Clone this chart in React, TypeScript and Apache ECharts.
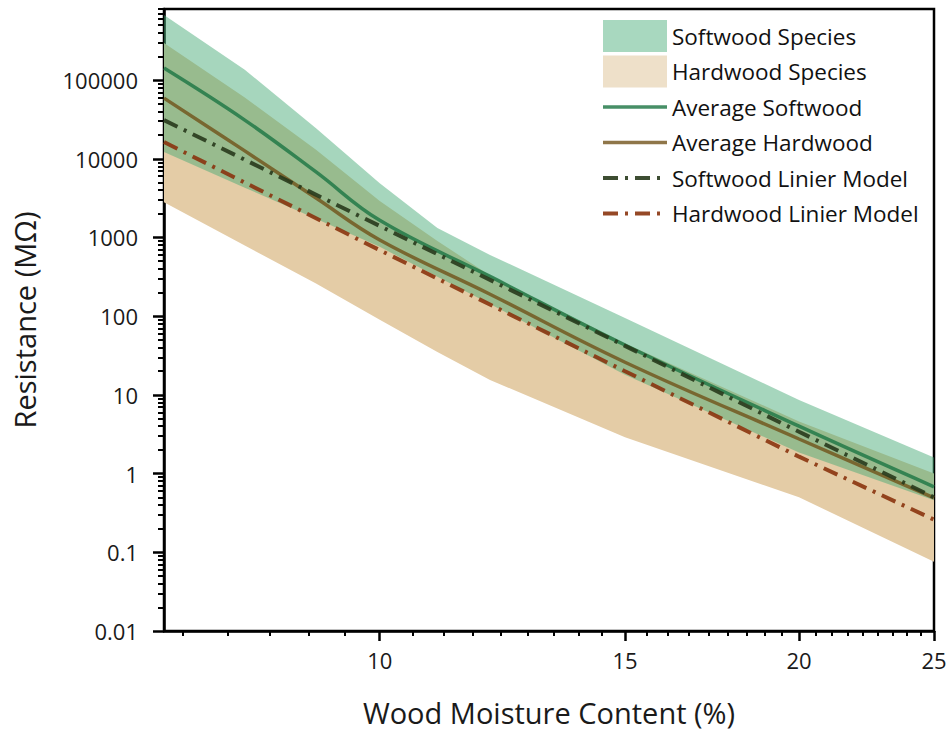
import React, { useEffect, useRef } from "react";
import * as echarts from "echarts";

// Moisture content (%) sample points
const moisture = [7, 8, 9, 10, 11, 12, 15, 20, 25];

// Species ranges, resistance in MΩ
const softwoodMax = [670000, 135000, 24500, 4900, 1320, 600, 95, 8.6, 1.6];
const softwoodMin = [12200, 4300, 1730, 760, 316, 143, 18, 1.85, 0.46];
const hardwoodMax = [295000, 60000, 13000, 2900, 900, 330, 45, 4.6, 1.0];
const hardwoodMin = [2800, 790, 260, 90, 35, 15.5, 2.9, 0.5, 0.076];

// Averages and fitted models
const lineMoisture = [7, 8, 9, 10, 12, 15, 20, 25];
const averageSoftwood = [142000, 31000, 6800, 1650, 320, 43, 4.0, 0.68];
const averageHardwood = [59000, 12600, 3170, 930, 190, 26, 2.75, 0.49];
const modelMoisture = [7, 10, 15, 20, 25];
const softwoodModel = [31000, 1400, 42, 3.4, 0.5];
const hardwoodModel = [16300, 690, 20, 1.64, 0.26];

// Axis ticks
const xMajorTicks = [10, 15, 20, 25];
const xMinorTicks: number[] = [];
[5, 10, 15, 20].forEach((b) => {
  for (let k = 1; k < 9; k++) {
    const v = b + (k * 5) / 9;
    if (v >= 7 && v <= 25) xMinorTicks.push(v);
  }
});
const yMajorExponents = [-2, -1, 0, 1, 2, 3, 4, 5];
const yMinorTicks: number[] = [];
yMajorExponents.forEach((e) => {
  for (let m = 2; m <= 9; m++) {
    const v = m * Math.pow(10, e);
    if (v <= 800000) yMinorTicks.push(v);
  }
});

const FONT = "'Open Sans', 'Noto Sans', sans-serif";
const DASH_DOT = [15, 7, 3, 7];
const lg = (v: number) => Math.log10(v);

function band(name: string, xs: number[], lo: number[], hi: number[], color: string) {
  const data = xs.map((m, i) => [lg(m), lg(lo[i]), lg(hi[i])]);
  return {
    type: "custom",
    name,
    silent: true,
    clip: true,
    z: 1,
    itemStyle: { color },
    encode: { x: 0, y: [1, 2] },
    data,
    renderItem: (params: any, api: any) => {
      if (params.dataIndex !== 0) return null;
      const upper = data.map((d) => api.coord([d[0], d[2]]));
      const lower = data.map((d) => api.coord([d[0], d[1]])).reverse();
      return {
        type: "polygon",
        shape: { points: upper.concat(lower) },
        style: { fill: color },
      };
    },
  };
}

function curve(name: string, xs: number[], ys: number[], color: string, width: number, type: any, smooth: number | boolean) {
  return {
    type: "line",
    name,
    z: 3,
    symbol: "none",
    showSymbol: false,
    smooth,
    silent: true,
    itemStyle: { color },
    lineStyle: { color, width, type, cap: "butt" },
    data: xs.map((m, i) => [lg(m), lg(ys[i])]),
  };
}

const lineLegend = (name: string, width: number) => ({
  name,
  itemStyle: { opacity: 0 },
  lineStyle: { width },
});

export default function App() {
  const ref = useRef<HTMLDivElement>(null);

  useEffect(() => {
    document.body.style.margin = "0";
    const chart = echarts.init(ref.current!, undefined, { renderer: "svg" });
    const xMin = lg(7);
    const xMax = lg(25);
    const yMin = -2;
    const yMax = lg(800000);

    const tickLabel = { fontFamily: FONT, fontSize: 22, color: "#1a1a1a" };
    const titleStyle = { fontFamily: FONT, fontSize: 29, color: "#1a1a1a" };

    chart.setOption({
      animation: false,
      backgroundColor: "#ffffff",
      grid: {
        left: 164,
        top: 9,
        right: 18,
        bottom: 102,
        show: true,
        borderColor: "#000",
        borderWidth: 2.5,
      },
      legend: {
        orient: "vertical",
        left: 601,
        top: 20,
        padding: 0,
        itemWidth: 64,
        itemHeight: 32,
        itemGap: 3.5,
        selectedMode: false,
        textStyle: { fontFamily: FONT, fontSize: 22.5, lineHeight: 32, color: "#111" },
        data: [
          { name: "Softwood Species", icon: "rect", itemStyle: { color: "#a8d8bf", opacity: 1 } },
          { name: "Hardwood Species", icon: "rect", itemStyle: { color: "#eee0c9", opacity: 1 } },
          lineLegend("Average Softwood", 3.5),
          lineLegend("Average Hardwood", 3.5),
          lineLegend("Softwood Linier Model", 4),
          lineLegend("Hardwood Linier Model", 4),
        ],
      },
      xAxis: [
        {
          type: "value",
          position: "bottom",
          min: xMin,
          max: xMax,
          name: "Wood Moisture Content (%)",
          nameLocation: "middle",
          nameGap: 67,
          nameTextStyle: titleStyle,
          axisLine: { show: true, onZero: false, lineStyle: { color: "#000", width: 2.5 } },
          axisTick: {
            show: true,
            inside: false,
            length: 10,
            lineStyle: { color: "#000", width: 2.5 },
            customValues: xMajorTicks.map(lg),
          },
          axisLabel: {
            ...tickLabel,
            margin: 18,
            customValues: xMajorTicks.map(lg),
            formatter: (v: number) => String(Math.round(Math.pow(10, v))),
          },
          splitLine: { show: false },
        },
        {
          type: "value",
          position: "bottom",
          min: xMin,
          max: xMax,
          axisLine: { show: false, onZero: false },
          axisTick: {
            show: true,
            inside: false,
            length: 5,
            lineStyle: { color: "#000", width: 2 },
            customValues: xMinorTicks.map(lg),
          },
          axisLabel: { show: false },
          splitLine: { show: false },
        },
      ],
      yAxis: [
        {
          type: "value",
          position: "left",
          min: yMin,
          max: yMax,
          name: "Resistance (MΩ)",
          nameLocation: "middle",
          nameRotate: 90,
          nameGap: 125,
          nameTextStyle: titleStyle,
          axisLine: { show: true, onZero: false, lineStyle: { color: "#000", width: 2.5 } },
          axisTick: {
            show: true,
            inside: false,
            length: 11,
            lineStyle: { color: "#000", width: 2.5 },
            customValues: yMajorExponents,
          },
          axisLabel: {
            ...tickLabel,
            margin: 26,
            customValues: yMajorExponents,
            formatter: (v: number) => {
              const p = Math.round(v);
              return p < 0 ? Math.pow(10, p).toFixed(-p) : String(Math.pow(10, p));
            },
          },
          splitLine: { show: false },
        },
        {
          type: "value",
          position: "left",
          min: yMin,
          max: yMax,
          axisLine: { show: false, onZero: false },
          axisTick: {
            show: true,
            inside: false,
            length: 6,
            lineStyle: { color: "#000", width: 2 },
            customValues: yMinorTicks.map(lg),
          },
          axisLabel: { show: false },
          splitLine: { show: false },
        },
      ],
      series: [
        band("Hardwood Species", moisture, hardwoodMin, hardwoodMax, "rgb(228,204,166)"),
        band("Softwood Species", moisture, softwoodMin, softwoodMax, "rgba(70,170,118,0.48)"),
        curve("Average Softwood", lineMoisture, averageSoftwood, "rgba(30,118,68,0.82)", 3.5, "solid", 0.4),
        curve("Average Hardwood", lineMoisture, averageHardwood, "rgba(112,80,22,0.78)", 3.5, "solid", 0.4),
        curve("Softwood Linier Model", modelMoisture, softwoodModel, "rgba(40,58,28,0.9)", 4, DASH_DOT, false),
        curve("Hardwood Linier Model", modelMoisture, hardwoodModel, "rgba(138,52,14,0.9)", 4, DASH_DOT, false),
      ],
    });
    return () => chart.dispose();
  }, []);

  return <div ref={ref} style={{ width: 952, height: 733 }} />;
}
